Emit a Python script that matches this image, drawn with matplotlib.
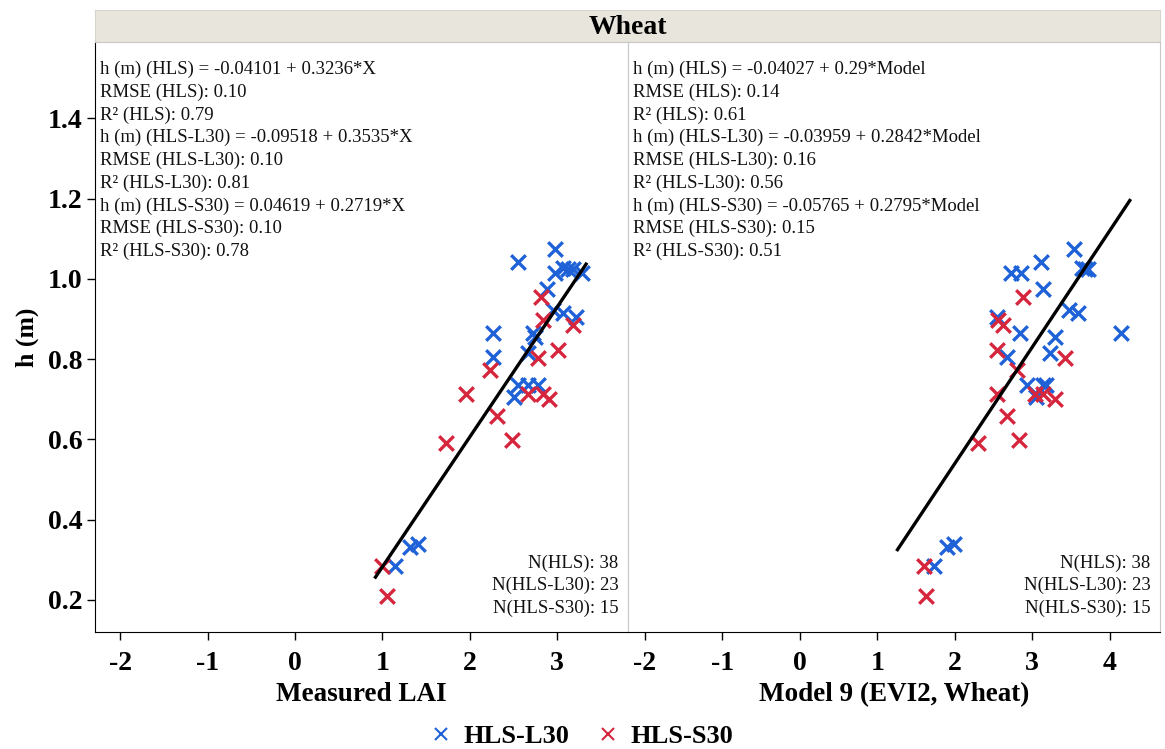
import matplotlib
matplotlib.use("Agg")
from matplotlib import pyplot as plt
import numpy as np

plt.rcParams["font.family"] = ["Liberation Serif", "DejaVu Serif"]
plt.rcParams["axes.unicode_minus"] = False

# Data
h_l30 = [1.075, 1.043, 1.014, 1.027, 1.024, 1.024, 1.014, 0.974, 0.922, 0.916, 0.906,
         0.864, 0.864, 0.856, 0.806, 0.814, 0.735, 0.735, 0.735, 0.706, 0.331, 0.339, 0.285]
lai_l30 = [2.98, 2.55, 2.97, 3.07, 3.12, 3.18, 3.28, 2.88, 2.95, 3.07, 3.22,
           2.27, 2.72, 2.74, 2.27, 2.67, 2.55, 2.67, 2.78, 2.51, 1.31, 1.41, 1.14]
model_l30 = [3.54, 3.11, 2.73, 3.64, 3.72, 3.68, 2.86, 3.14, 3.48, 3.59, 2.55,
             4.14, 2.84, 3.29, 2.67, 3.23, 2.93, 3.18, 3.14, 3.05, 1.90, 1.99, 1.73]

h_s30 = [0.955, 0.898, 0.885, 0.822, 0.802, 0.772, 0.714, 0.712, 0.714, 0.700,
         0.659, 0.591, 0.598, 0.285, 0.209]
lai_s30 = [2.82, 2.84, 3.18, 3.01, 2.78, 2.23, 1.96, 2.67, 2.84, 2.91,
           2.31, 1.73, 2.48, 0.99, 1.05]
model_s30 = [2.88, 2.56, 2.62, 2.54, 3.42, 2.80, 2.54, 3.03, 3.14, 3.29,
             2.67, 2.30, 2.83, 1.60, 1.63]

# HLS fit (intercept, slope) and the x range the line covers
fit_lai = (-0.04101, 0.3236)
fit_model = (-0.04027, 0.29)
line_lai = [0.92, 3.33]
line_model = [1.26, 4.26]

stats_lai = [
    "h (m) (HLS) = -0.04101 + 0.3236*X",
    "RMSE (HLS): 0.10",
    "R\u00b2 (HLS): 0.79",
    "h (m) (HLS-L30) = -0.09518 + 0.3535*X",
    "RMSE (HLS-L30): 0.10",
    "R\u00b2 (HLS-L30): 0.81",
    "h (m) (HLS-S30) = 0.04619 + 0.2719*X",
    "RMSE (HLS-S30): 0.10",
    "R\u00b2 (HLS-S30): 0.78",
]
stats_model = [
    "h (m) (HLS) = -0.04027 + 0.29*Model",
    "RMSE (HLS): 0.14",
    "R\u00b2 (HLS): 0.61",
    "h (m) (HLS-L30) = -0.03959 + 0.2842*Model",
    "RMSE (HLS-L30): 0.16",
    "R\u00b2 (HLS-L30): 0.56",
    "h (m) (HLS-S30) = -0.05765 + 0.2795*Model",
    "RMSE (HLS-S30): 0.15",
    "R\u00b2 (HLS-S30): 0.51",
]
counts = ["N(HLS): 38", "N(HLS-L30): 23", "N(HLS-S30): 15"]

BLUE = "#1f62d8"
RED = "#d5263e"
GRID_GRAY = "#c8c8c8"

fig = plt.figure(figsize=(11.65, 7.49), dpi=100)

# strip title
strip = fig.add_axes([95 / 1165, 1 - 42 / 749, 1065 / 1165, 32 / 749])
strip.set_facecolor("#e7e5dc")
strip.set_xticks([])
strip.set_yticks([])
for s in strip.spines.values():
    s.set_color("#d8d6cc")
strip.text(0.5, 0.45, "Wheat", ha="center", va="center", fontsize=20,
           fontweight="bold", transform=strip.transAxes)

ax1 = fig.add_axes([95 / 1165, 1 - 632 / 749, 533 / 1165, 590 / 749])
ax2 = fig.add_axes([628 / 1165, 1 - 632 / 749, 532 / 1165, 590 / 749])

panels = [
    (ax1, lai_l30, lai_s30, fit_lai, line_lai, stats_lai, "Measured LAI", (-2.29, 3.81), range(-2, 4)),
    (ax2, model_l30, model_s30, fit_model, line_model, stats_model, "Model 9 (EVI2, Wheat)", (-2.22, 4.65), range(-2, 5)),
]

for ax, xl, xs, fit, lx, stats, xlabel, xlim, xt in panels:
    ax.scatter(xl, h_l30, marker="x", s=110, color=BLUE, linewidths=2.4, zorder=3)
    ax.scatter(xs, h_s30, marker="x", s=110, color=RED, linewidths=2.4, zorder=3)
    lx = np.array(lx)
    ax.plot(lx, fit[0] + fit[1] * lx, color="black", lw=2.4, zorder=4)

    ax.set_xlim(*xlim)
    ax.set_ylim(0.12, 1.59)
    ax.set_xticks(list(xt))
    ax.set_xlabel(xlabel, fontsize=19.5, fontweight="bold", labelpad=4)
    ax.tick_params(axis="x", direction="out", length=6, width=1, labelsize=20, pad=8)
    for lbl in ax.get_xticklabels():
        lbl.set_fontweight("bold")

    ax.spines["top"].set_color(GRID_GRAY)
    ax.spines["right"].set_color(GRID_GRAY)
    ax.spines["bottom"].set_color("black")

    ax.text(0.01, 0.968, "\n".join(stats), transform=ax.transAxes, ha="left", va="top",
            fontsize=13.5, linespacing=1.41, color="#111111")
    ax.text(0.982, 0.026, "\n".join(counts), transform=ax.transAxes, ha="right", va="bottom",
            fontsize=13.5, linespacing=1.38, color="#111111", multialignment="right")

ax1.set_yticks([0.2, 0.4, 0.6, 0.8, 1.0, 1.2, 1.4])
ax1.set_yticklabels(["0.2", "0.4", "0.6", "0.8", "1.0", "1.2", "1.4"])
ax1.tick_params(axis="y", direction="out", length=6, width=1, labelsize=20, pad=3)
for lbl in ax1.get_yticklabels():
    lbl.set_fontweight("bold")
ax1.set_ylabel("h (m)", fontsize=18.5, fontweight="bold", labelpad=6)
ax1.spines["left"].set_color("black")

ax2.set_yticks([])
ax2.spines["left"].set_color(GRID_GRAY)

# legend
handles = [
    plt.Line2D([], [], marker="x", linestyle="none", color=BLUE, markersize=8, markeredgewidth=1.5),
    plt.Line2D([], [], marker="x", linestyle="none", color=RED, markersize=8, markeredgewidth=1.5),
]
fig.legend(handles, ["HLS-L30", "HLS-S30"], loc="center", bbox_to_anchor=(580 / 1165, 1 - 736 / 749),
           ncol=2, frameon=False, prop={"size": 19, "weight": "bold"}, handletextpad=0.3,
           columnspacing=0.9, handlelength=1.1)

fig.savefig("out.png", dpi=100)
